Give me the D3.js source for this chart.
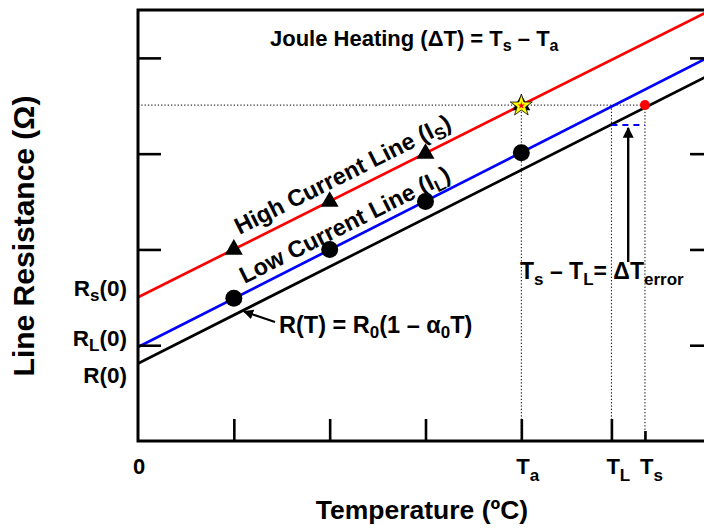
<!DOCTYPE html>
<html>
<head>
<meta charset="utf-8">
<script src="https://cdn.jsdelivr.net/npm/d3@7"></script>
<style>
  body { margin: 0; background: #fff; }
  text { font-family: "Liberation Sans", Arial, Helvetica, sans-serif; font-weight: bold; fill: #000; }
</style>
</head>
<body>
<svg id="chart" width="704" height="529"></svg>
<script>
// Temperature axis (arbitrary units, 0 = origin) and resistance axis ticks
const tempTicks = [1, 2, 3, 4];
const resistanceTicks = [1, 2, 3, 4];
const T_a = 4;       // ambient temperature
const T_L = 4.94;    // temperature
const T_s = 5.29;    // true line temperature under high current

// Measurement points
const sampleTemps = [1, 2, 3];
const highCurrentR = [2.0, 2.5, 3.0];        // triangles on the high current line
const lowCurrentTemps = [1, 2, 3, 4];
const lowCurrentR = [1.49, 2.0, 2.5, 3.01];  // circles on the low current line
const heatedR = 3.507;                       // resistance at T_a under high current (star)
const baseAtTL = 3.30;                       // R(T) level at T_L

// Straight lines as [temperature, resistance] end points
const highLine = [[0, 1.50], [6, 4.51]];
const lowLine  = [[0, 0.98], [6, 4.03]];
const baseLine = [[0, 0.81], [6, 3.84]];

const svg = d3.select("#chart");
const frame = { left: 138, right: 713, top: 10, bottom: 441 };

const x = d3.scaleLinear().domain([0, 6]).range([frame.left, frame.right]);
const y = d3.scaleLinear().domain([0, 4.5]).range([frame.bottom, frame.top]);

const defs = svg.append("defs");
defs.append("clipPath").attr("id", "plotClip")
  .append("rect")
  .attr("x", frame.left).attr("y", frame.top)
  .attr("width", frame.right - frame.left).attr("height", frame.bottom - frame.top);
defs.append("marker")
  .attr("id", "head")
  .attr("viewBox", "0 0 10 10")
  .attr("refX", 9).attr("refY", 5)
  .attr("markerWidth", 4.6).attr("markerHeight", 4.6)
  .attr("markerUnits", "strokeWidth")
  .attr("orient", "auto")
  .append("path").attr("d", "M0,0 L10,5 L0,10 Z").attr("fill", "#000");

// Guide lines (dotted)
const guides = svg.append("g")
  .attr("stroke", "#000").attr("stroke-width", 1).attr("stroke-dasharray", "1.3,2").attr("fill", "none");
guides.append("line")
  .attr("x1", x(0)).attr("x2", x(T_s)).attr("y1", y(heatedR)).attr("y2", y(heatedR));
[T_a, T_L, T_s].forEach(t => {
  guides.append("line")
    .attr("x1", x(t)).attr("x2", x(t)).attr("y1", y(heatedR)).attr("y2", y(0));
});

// Resistance lines
const lineGen = d3.line().x(d => x(d[0])).y(d => y(d[1]));
const lines = svg.append("g").attr("clip-path", "url(#plotClip)").attr("fill", "none").attr("stroke-width", 2.7);
lines.append("path").attr("d", lineGen(baseLine)).attr("stroke", "#000");
lines.append("path").attr("d", lineGen(lowLine)).attr("stroke", "#0000ff");
lines.append("path").attr("d", lineGen(highLine)).attr("stroke", "#ff0000");

// T_L .. T_s dashed level
svg.append("line")
  .attr("x1", x(T_L)).attr("x2", x(T_s)).attr("y1", y(baseAtTL)).attr("y2", y(baseAtTL))
  .attr("stroke", "#0000ff").attr("stroke-width", 2).attr("stroke-dasharray", "6,5");

// Markers
const tri = d3.symbol().type(d3.symbolTriangle).size(140);
svg.append("g").selectAll("path.tri")
  .data(sampleTemps.map((t, i) => [t, highCurrentR[i]]))
  .join("path")
  .attr("class", "tri")
  .attr("d", tri)
  .attr("transform", d => `translate(${x(d[0])},${y(d[1])})`)
  .attr("fill", "#000");

svg.append("g").selectAll("circle")
  .data(lowCurrentTemps.map((t, i) => [t, lowCurrentR[i]]))
  .join("circle")
  .attr("cx", d => x(d[0])).attr("cy", d => y(d[1])).attr("r", 8.5)
  .attr("fill", "#000");

// High-current reading at T_a: triangle behind a star
svg.append("path").attr("d", tri)
  .attr("transform", `translate(${x(T_a)},${y(heatedR)})`).attr("fill", "#000");
svg.append("path").attr("d", d3.symbol().type(d3.symbolStar).size(150))
  .attr("transform", `translate(${x(T_a)},${y(heatedR) + 0.5})`)
  .attr("fill", "#ffff00").attr("stroke", "#000").attr("stroke-width", 0.8);
svg.append("path").attr("d", d3.symbol().type(d3.symbolStar).size(16))
  .attr("transform", `translate(${x(T_a)},${y(heatedR) + 0.5})`)
  .attr("fill", "#ff0000");

// Equivalent point at T_s
svg.append("circle").attr("cx", x(T_s)).attr("cy", y(heatedR)).attr("r", 5).attr("fill", "#ff0000");

// Frame and inward ticks
const tickStyle = g => {
  g.select(".domain").remove();
  g.selectAll(".tick line").attr("stroke", "#000").attr("stroke-width", 2.6);
  g.selectAll(".tick text").remove();
};
svg.append("g").attr("transform", `translate(${frame.left},0)`)
  .call(d3.axisLeft(y).tickValues(resistanceTicks).tickSize(-23).tickFormat("")).call(tickStyle);
svg.append("g").attr("transform", `translate(${frame.right},0)`)
  .call(d3.axisRight(y).tickValues(resistanceTicks).tickSize(-23).tickFormat("")).call(tickStyle);
svg.append("g").attr("transform", `translate(0,${frame.bottom})`)
  .call(d3.axisBottom(x).tickValues([...tempTicks, T_L]).tickSize(-22).tickFormat("")).call(tickStyle);
svg.append("g").attr("transform", `translate(0,${frame.bottom})`)
  .call(d3.axisBottom(x).tickValues([T_s]).tickSize(-10).tickFormat("")).call(tickStyle);

svg.append("rect")
  .attr("x", frame.left).attr("y", frame.top)
  .attr("width", frame.right - frame.left).attr("height", frame.bottom - frame.top)
  .attr("fill", "none").attr("stroke", "#000").attr("stroke-width", 3);

// Rich text helper: parts are [string, isSubscript]
function richText(parent, parts, size, subSize, subShift) {
  const t = parent.append("text").attr("font-size", size);
  let down = false;
  parts.forEach(([s, sub]) => {
    const ts = t.append("tspan").text(s);
    if (sub && !down) { ts.attr("font-size", subSize).attr("dy", subShift); down = true; }
    else if (!sub && down) { ts.attr("dy", -subShift); down = false; }
    else if (sub) { ts.attr("font-size", subSize); }
  });
  return t;
}

// Title annotation
richText(svg, [["Joule Heating (\u0394T) = T"], ["s", true], [" \u2013 T"], ["a", true]], 22, 16, 5)
  .attr("x", 270).attr("y", 46);

// Rotated line labels
const angle = Math.atan2(y(highLine[1][1]) - y(highLine[0][1]), x(highLine[1][0]) - x(highLine[0][0])) * 180 / Math.PI;
richText(svg, [["High Current Line (I"], ["S", true], [")"]], 23.5, 17, 5)
  .attr("transform", `translate(${x(1.06)},${y(2.15)}) rotate(${angle})`);
richText(svg, [["Low Current Line (I"], ["L", true], [")"]], 23.5, 17, 5)
  .attr("transform", `translate(${x(1.11)},${y(1.64)}) rotate(${angle})`);

// R(T) label with arrow
richText(svg, [["R(T) = R"], ["0", true], ["(1 \u2013 \u03B1"], ["0", true], ["T)"]], 23.5, 17, 5)
  .attr("x", 279).attr("y", 333);
svg.append("line")
  .attr("x1", 275).attr("y1", 322).attr("x2", 244).attr("y2", 311.5)
  .attr("stroke", "#000").attr("stroke-width", 2.2).attr("marker-end", "url(#head)");

// Error label with arrow
richText(svg, [["T"], ["s", true], [" \u2013 T"], ["L", true], ["= \u0394T"], ["error", true]], 23, 17, 6)
  .attr("x", 520).attr("y", 279);
svg.append("line")
  .attr("x1", x((T_L + T_s) / 2)).attr("x2", x((T_L + T_s) / 2))
  .attr("y1", 262).attr("y2", y(baseAtTL) + 3)
  .attr("stroke", "#000").attr("stroke-width", 2.4).attr("marker-end", "url(#head)");

// Left axis labels
const leftLabels = [
  { parts: [["R"], ["s", true], ["(0)"]], base: 296 },
  { parts: [["R"], ["L", true], ["(0)"]], base: 346 },
  { parts: [["R(0)"]], base: 383 }
];
leftLabels.forEach(l => {
  richText(svg, l.parts, 22.5, 17, 5).attr("x", 127).attr("y", l.base).attr("text-anchor", "end");
});

// Bottom axis labels
const bottomLabels = [
  { t: 0, parts: [["0"]] },
  { t: T_a, parts: [["T"], ["a", true]] },
  { t: T_L, parts: [["T"], ["L", true]] },
  { t: T_s, parts: [["T"], ["s", true]] }
];
bottomLabels.forEach(l => {
  richText(svg, l.parts, 22, 17, 7)
    .attr("x", x(l.t) - 5).attr("y", 474);
});

// Axis titles
svg.append("text").attr("x", 422).attr("y", 519).attr("text-anchor", "middle")
  .attr("font-size", 26.5).text("Temperature (\u00BAC)");
svg.append("text").attr("transform", "translate(34,236) rotate(-90)").attr("text-anchor", "middle")
  .attr("font-size", 30).text("Line Resistance (\u03A9)");
</script>
</body>
</html>
